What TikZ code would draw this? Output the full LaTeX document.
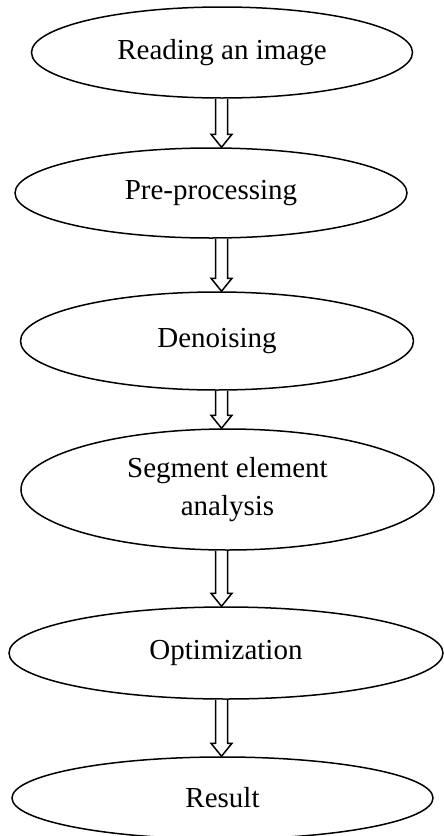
\documentclass[tikz,border=0pt]{standalone}
\usepackage{fontspec}
\setmainfont{Liberation Serif}
\usetikzlibrary{shapes.geometric,calc}
\tikzset{
  stage/.style={ellipse, draw=black, line width=1.5pt, inner sep=0pt, align=center,
    font=\fontsize{29}{38}\selectfont},
  hollow/.style={draw=black, line width=1.5pt, fill=white, line join=miter}
}
\newcommand\hollowarrow[2]{%
  \draw[hollow] let \p1=(#1.south), \p2=(#2.north) in
    (215.5pt,\y1) -- (215.5pt,\y2+13pt) -- (211pt,\y2+13pt) -- (221.5pt,\y2)
    -- (232pt,\y2+13pt) -- (227.5pt,\y2+13pt) -- (227.5pt,\y1);}
\begin{document}
\begin{tikzpicture}[x=1pt,y=-1pt]
\useasboundingbox (0,0) rectangle (444,836);
\node[stage, minimum width=381pt, minimum height=91pt] (n1) at (222,52.5) {Reading an image};
\node[stage, minimum width=392pt, minimum height=90pt] (n2) at (211,193) {Pre-processing};
\node[stage, minimum width=393pt, minimum height=98pt] (n3) at (217,341) {Denoising};
\node[stage, minimum width=413pt, minimum height=121pt] (n4) at (227.5,489.5) {Segment element\\analysis};
\node[stage, minimum width=434pt, minimum height=92pt] (n5) at (226,653) {Optimization};
\node[stage, minimum width=421pt, minimum height=82pt] (n6) at (222.5,798) {Result};
\hollowarrow{n1}{n2}
\hollowarrow{n2}{n3}
\hollowarrow{n3}{n4}
\hollowarrow{n4}{n5}
\hollowarrow{n5}{n6}
\end{tikzpicture}
\end{document}
